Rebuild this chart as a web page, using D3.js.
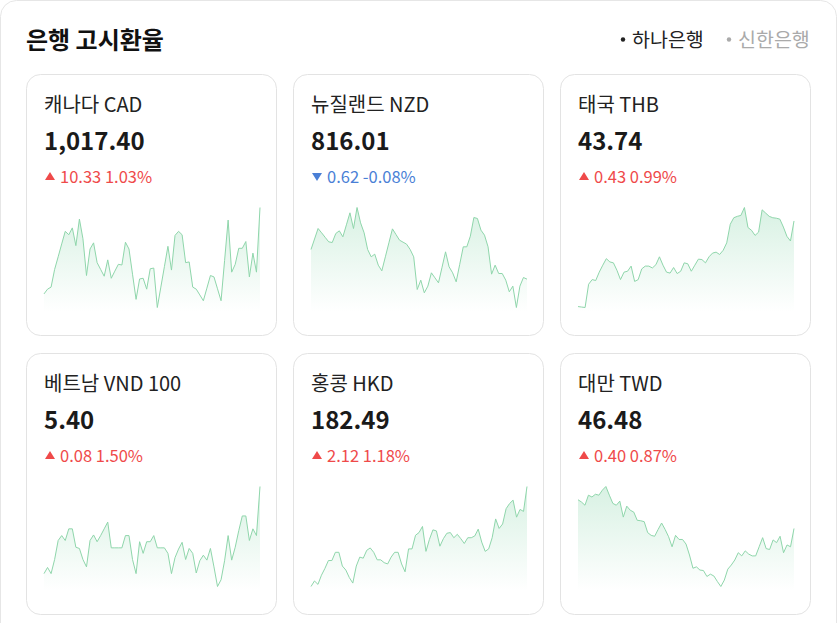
<!DOCTYPE html>
<html><head><meta charset="utf-8">
<script src="https://cdn.jsdelivr.net/npm/d3@7"></script>
<style>
html,body{margin:0;padding:0;background:#fff;}
svg{display:block;font-family:"Noto Sans CJK KR","Noto Sans",sans-serif;}
</style></head>
<body><svg id="chart" width="837" height="623"></svg>
<script>
const title = "은행 고시환율";
const banks = ["하나은행", "신한은행"];
const currencies = ["캐나다 CAD", "뉴질랜드 NZD", "태국 THB", "베트남 VND 100", "홍콩 HKD", "대만 TWD"];
const rates = [1017.40, 816.01, 43.74, 5.40, 182.49, 46.48];
const rateLabels = ["1,017.40", "816.01", "43.74", "5.40", "182.49", "46.48"];
const changes = [10.33, -0.62, 0.43, 0.08, 2.12, 0.40];
const changePct = ["1.03%", "-0.08%", "0.99%", "1.50%", "1.18%", "0.87%"];

const cadSeries = [1003.59,1004.35,1004.68,1007.50,1009.52,1011.58,1013.59,1013.05,1014.14,1011.31,1015.55,1012.40,1006.53,1010.77,1011.75,1008.59,1007.50,1006.42,1009.03,1006.09,1007.23,1008.32,1008.21,1011.85,1010.77,1006.74,1002.72,1005.98,1006.09,1004.35,1007.61,1007.72,1001.42,1004.68,1007.94,1011.20,1007.40,1012.94,1013.59,1013.05,1008.59,1008.70,1004.68,1004.35,1003.43,1002.50,1004.51,1006.53,1006.31,1004.41,1002.50,1008.92,1015.39,1007.07,1008.32,1010.88,1010.88,1011.96,1006.31,1010.11,1007.07,1017.40];
const nzdSeries = [827.05,830.95,834.86,833.25,831.57,829.90,829.65,833.00,833.99,831.76,836.22,840.69,834.86,842.67,836.97,833.25,827.05,824.32,825.31,821.22,819.11,824.32,829.53,834.73,832.63,830.52,829.77,829.03,827.05,824.32,812.17,815.64,810.93,813.41,818.37,816.51,814.65,820.41,826.18,820.60,818.37,815.02,821.53,828.04,828.04,832.01,838.95,838.58,834.24,832.38,828.04,817.87,821.22,818.12,818.12,815.64,811.30,813.41,805.47,813.41,816.63,816.01];
const thbSeries = [41.90,41.89,41.88,42.38,42.48,42.46,42.64,42.79,42.93,42.86,42.84,42.68,42.48,42.64,42.66,42.77,42.44,42.48,42.71,42.77,42.77,42.73,42.80,42.97,42.79,42.64,42.62,42.74,42.61,42.66,42.84,42.82,42.66,42.79,42.92,42.91,42.84,42.97,43.05,43.07,43.02,43.11,43.27,43.67,43.81,43.84,43.86,44.03,43.60,43.54,43.43,43.50,43.98,43.91,43.84,43.81,43.80,43.78,43.61,43.41,43.31,43.74];
const vndSeries = [5.258,5.268,5.258,5.281,5.312,5.320,5.312,5.331,5.331,5.301,5.299,5.281,5.269,5.312,5.321,5.310,5.320,5.331,5.342,5.300,5.300,5.300,5.300,5.320,5.320,5.281,5.258,5.310,5.291,5.310,5.310,5.320,5.300,5.300,5.300,5.291,5.258,5.284,5.298,5.309,5.281,5.299,5.291,5.259,5.279,5.288,5.280,5.299,5.269,5.237,5.248,5.279,5.320,5.280,5.301,5.328,5.352,5.352,5.312,5.331,5.320,5.400];
const hkdSeries = [173.98,174.45,174.16,174.94,175.52,176.19,176.19,176.89,176.89,175.72,175.38,174.74,174.27,175.72,176.48,176.39,177.06,177.26,176.89,176.25,176.25,176.01,175.90,176.48,176.89,176.89,175.90,175.23,177.18,177.18,178.34,178.57,179.09,176.97,177.99,178.80,178.71,177.41,178.05,178.51,178.57,178.13,178.42,178.05,177.64,178.13,178.13,178.28,178.86,177.76,176.97,177.18,178.13,179.73,178.92,179.30,180.60,181.04,181.33,179.88,180.54,180.37,182.49];
const twdSeries = [47.11,47.06,46.99,47.21,47.17,47.23,47.21,47.32,47.40,47.21,47.03,46.99,47.08,46.73,46.97,46.88,46.84,46.66,46.65,46.63,46.39,46.33,46.31,46.46,46.60,46.46,46.30,46.08,46.33,46.24,46.24,46.14,45.90,45.61,45.64,45.57,45.56,45.43,45.48,45.44,45.32,45.21,45.35,45.59,45.68,45.79,45.95,45.88,45.99,45.92,45.88,45.88,46.08,46.28,46.04,46.02,46.23,46.17,46.31,45.95,46.12,46.08,46.48];
const seriesList = [cadSeries, nzdSeries, thbSeries, vndSeries, hkdSeries, twdSeries];

const svg = d3.select("#chart");
const defs = svg.append("defs");
const grad = defs.append("linearGradient").attr("id","fillGrad").attr("x1",0).attr("y1",0).attr("x2",0).attr("y2",1);
grad.append("stop").attr("offset","0%").attr("stop-color","#3cba74").attr("stop-opacity",0.2);
grad.append("stop").attr("offset","100%").attr("stop-color","#3cba74").attr("stop-opacity",0.0);

// outer panel
svg.append("rect").attr("x",0.5).attr("y",0.5).attr("width",836).attr("height",700)
  .attr("rx",16).attr("fill","#fff").attr("stroke","#e6e6e6");

svg.append("text").attr("x",26).attr("y",49).attr("font-size",24).attr("font-weight",700)
  .attr("fill","#111").text(title);

// legend
const legendX = [620, 726];
const legendCol = ["#222", "#aaa"];
banks.forEach((b,i)=>{
  svg.append("circle").attr("cx",legendX[i]+3).attr("cy",39.5).attr("r",2.2).attr("fill",legendCol[i]);
  svg.append("text").attr("x",legendX[i]+12).attr("y",47).attr("font-size",19.5)
    .attr("fill",legendCol[i]).text(b);
});

const cardX = [26, 293, 560], cardY = [74, 353];
const cardW = 251, cardH = 262;

seriesList.forEach((s, k)=>{
  const cx = cardX[k%3], cy = cardY[Math.floor(k/3)];
  const g = svg.append("g").attr("transform",`translate(${cx},${cy})`);
  g.append("rect").attr("x",0.5).attr("y",0.5).attr("width",cardW-1).attr("height",cardH-1)
    .attr("rx",14).attr("fill","#fff").attr("stroke","#e3e3e3");
  g.append("text").attr("x",18).attr("y",37.5).attr("font-size",20).attr("fill","#222").text(currencies[k]);
  g.append("text").attr("x",18).attr("y",76).attr("font-size",24).attr("font-weight",700).attr("fill","#1a1a1a").text(rateLabels[k]);
  const up = changes[k] >= 0;
  const col = up ? "#ef4a4a" : "#4a7fd6";
  const tri = up ? "M0,-4.5L5,3.5L-5,3.5Z" : "M0,4.5L5,-3.5L-5,-3.5Z";
  g.append("path").attr("d",tri).attr("transform","translate(24,102.5)").attr("fill",col);
  g.append("text").attr("x",34).attr("y",109).attr("font-size",16.5).attr("fill",col)
    .text(Math.abs(changes[k]).toFixed(2) + " " + changePct[k]);

  const x = d3.scaleLinear().domain([0, s.length-1]).range([18, 234]);
  const y = d3.scaleLinear().domain(d3.extent(s)).range([233.5, 133.5]);
  const area = d3.area().x((d,i)=>x(i)).y0(238).y1(d=>y(d));
  const line = d3.line().x((d,i)=>x(i)).y(d=>y(d));
  g.append("path").datum(s).attr("d",area).attr("fill","url(#fillGrad)");
  g.append("path").datum(s).attr("d",line).attr("fill","none").attr("stroke","#8fd6ab").attr("stroke-width",1);
});
</script></body></html>
